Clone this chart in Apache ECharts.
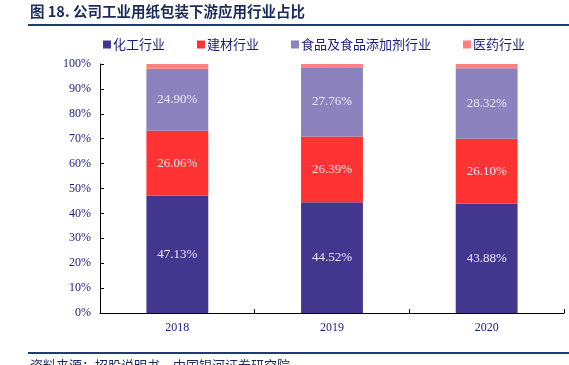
<!DOCTYPE html>
<html>
<head>
<meta charset="utf-8">
<script src="https://cdn.jsdelivr.net/npm/echarts@6/dist/echarts.min.js"></script>
<style>
html,body{margin:0;padding:0;background:#fff;}
#c{width:569px;height:365px;}
</style>
</head>
<body>
<div id="c"></div>
<script>
const categories = ['2018', '2019', '2020'];
const seriesNames = ['化工行业', '建材行业', '食品及食品添加剂行业', '医药行业'];
const chemical = [47.13, 44.52, 43.88];
const building = [26.06, 26.39, 26.10];
const food = [24.90, 27.76, 28.32];
const pharma = [1.91, 1.33, 1.70];
const yTicks = [0, 10, 20, 30, 40, 50, 60, 70, 80, 90, 100];

const colors = ['#42368F', '#FF3333', '#8B82BE', '#FF8080'];
const serif = '"Liberation Serif", "Times New Roman", serif';
const cjk = '"Noto Sans CJK SC", sans-serif';
const textBlue = '#1A1A80';

const chart = echarts.init(document.getElementById('c'), null, {renderer: 'canvas'});
const values = [chemical, building, food, pharma];

const series = seriesNames.map((name, i) => ({
  name: name,
  type: 'bar',
  stack: 'total',
  barWidth: '40%',
  data: values[i],
  itemStyle: {color: colors[i]},
  label: {
    show: i < 3,
    position: 'inside',
    color: '#E8E8F4',
    fontFamily: serif,
    fontSize: 13,
    formatter: p => p.value.toFixed(2) + '%'
  },
  emphasis: {disabled: true}
}));

chart.setOption({
  animation: false,
  color: colors,
  graphic: [
    {type: 'text', left: 30, top: 4, style: {text: '图 18. 公司工业用纸包装下游应用行业占比', fill: '#1B2A5C', font: 'bold 14.5px ' + cjk}},
    {type: 'rect', shape: {x: 28, y: 24, width: 541, height: 2}, style: {fill: '#1F3A78'}},
    {type: 'rect', shape: {x: 28, y: 352, width: 541, height: 2}, style: {fill: '#1F3A78'}},
    {type: 'text', left: 30, top: 359, style: {text: '资料来源：招股说明书，中国银河证券研究院', fill: '#1B2A5C', font: '13px ' + cjk}}
  ],
  legend: {
    data: seriesNames,
    left: 98,
    top: 33,
    icon: 'rect',
    itemWidth: 8,
    itemHeight: 8,
    itemGap: 32,
    textStyle: {color: textBlue, fontFamily: cjk, fontSize: 13, padding: [0, 0, 0, -3]}
  },
  grid: {left: 100, right: 5, top: 64, bottom: 52},
  xAxis: {
    type: 'category',
    data: categories,
    axisLine: {lineStyle: {color: '#000', width: 1}},
    axisTick: {show: true, inside: true, length: 4, lineStyle: {color: '#000'}},
    axisLabel: {color: textBlue, fontFamily: serif, fontSize: 12, margin: 9}
  },
  yAxis: {
    type: 'value',
    min: yTicks[0],
    max: yTicks[yTicks.length - 1],
    interval: 10,
    splitLine: {show: false},
    axisLine: {show: true, lineStyle: {color: '#000', width: 1}},
    axisTick: {show: true, inside: true, length: 4, lineStyle: {color: '#000'}},
    axisLabel: {color: textBlue, fontFamily: serif, fontSize: 12, margin: 9, formatter: '{value}%'}
  },
  series: series
});
</script>
</body>
</html>
